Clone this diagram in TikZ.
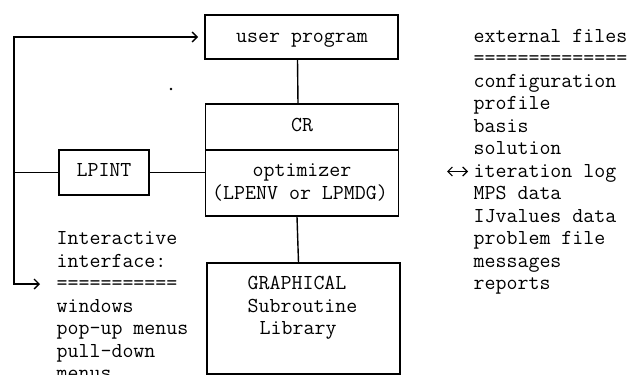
\documentclass[tikz,border=0pt]{standalone}
\usepackage{fontspec}
\usetikzlibrary{arrows.meta}
\begin{document}
\begin{tikzpicture}[x=1pt,y=-1pt,line width=1.4pt,
  font=\ttfamily\fontsize{21.3}{22.5}\selectfont,
  boxn/.style={draw,inner sep=0pt,minimum width=193pt},
  txt/.style={inner sep=0pt,anchor=base west},
  ctxt/.style={inner sep=0pt,anchor=base},
  barb/.style={-{Straight Barb[length=5pt,width=10pt,line width=1.4pt]}},
  dbarb/.style={line width=1.2pt,{Straight Barb[length=4.5pt,width=9pt,line width=1.2pt]}-{Straight Barb[length=4.5pt,width=9pt,line width=1.2pt]}}]
\useasboundingbox (0,0) rectangle (630,375);
% boxes
\node[boxn,minimum height=44pt] (user) at (301.5,37) {};
\node[boxn,minimum height=46pt] (cr) at (302,127) {};
\node[boxn,minimum height=66pt] (opt) at (302,183) {};
\node[boxn,minimum height=111pt] (gsl) at (303.5,318.5) {};
\node[draw,inner sep=0pt,minimum width=90pt,minimum height=45pt] (lpint) at (104,172.5) {};
% box texts
\node[ctxt] (tuser) at (302,42) {user program};
\node[ctxt] (tcr) at (302,131.5) {CR};
\node[ctxt] (topt) at (302,176.5) {optimizer};
\node[ctxt] (topt2) at (300,199) {(LPENV or LPMDG)};
\node[ctxt] (tlpint) at (104,176.5) {LPINT};
\node[txt] (g1) at (247,289.5) {GRAPHICAL};
\node[txt] (g2) at (247,312) {Subroutine};
\node[txt] (g3) at (259,334.5) {Library};
% connectors
\draw ([xshift=-4pt]user.south) -- ([xshift=-4pt]cr.north);
\draw ([xshift=-5pt]opt.south) -- ([xshift=-5pt]gsl.north);
\draw (lpint.east) -- (lpint.east -| opt.west);
\coordinate (tl) at (14,37);
\coordinate (bl) at (14,284);
\coordinate (ba) at (40,284);
\coordinate (ta) at (198,37);
\draw[barb] (bl) -- (tl) -- (ta);
\draw[barb] (tl) -- (bl) -- (ba);
\draw (lpint.west) -- (lpint.west -| tl);
\coordinate (ea) at (447,171.5);
\coordinate (eb) at (468,171.5);
\draw[dbarb] (ea) -- (eb);
% stray dot
\fill (171,89) circle (1.3pt);
% external files list
\foreach \t [count=\i from 0] in {external files,==============,configuration,profile,basis,solution,iteration log,MPS data,IJvalues data,problem file,messages,reports}
  \node[txt,name=ext\i] at (473,42+\i*22.5) {\t};
% interactive interface list
\foreach \t [count=\i from 0] in {Interactive,interface:,===========,windows,pop-up menus,pull-down,menus}
  \node[txt,name=int\i] at (56,244.5+\i*22.5) {\t};
\end{tikzpicture}
\end{document}
